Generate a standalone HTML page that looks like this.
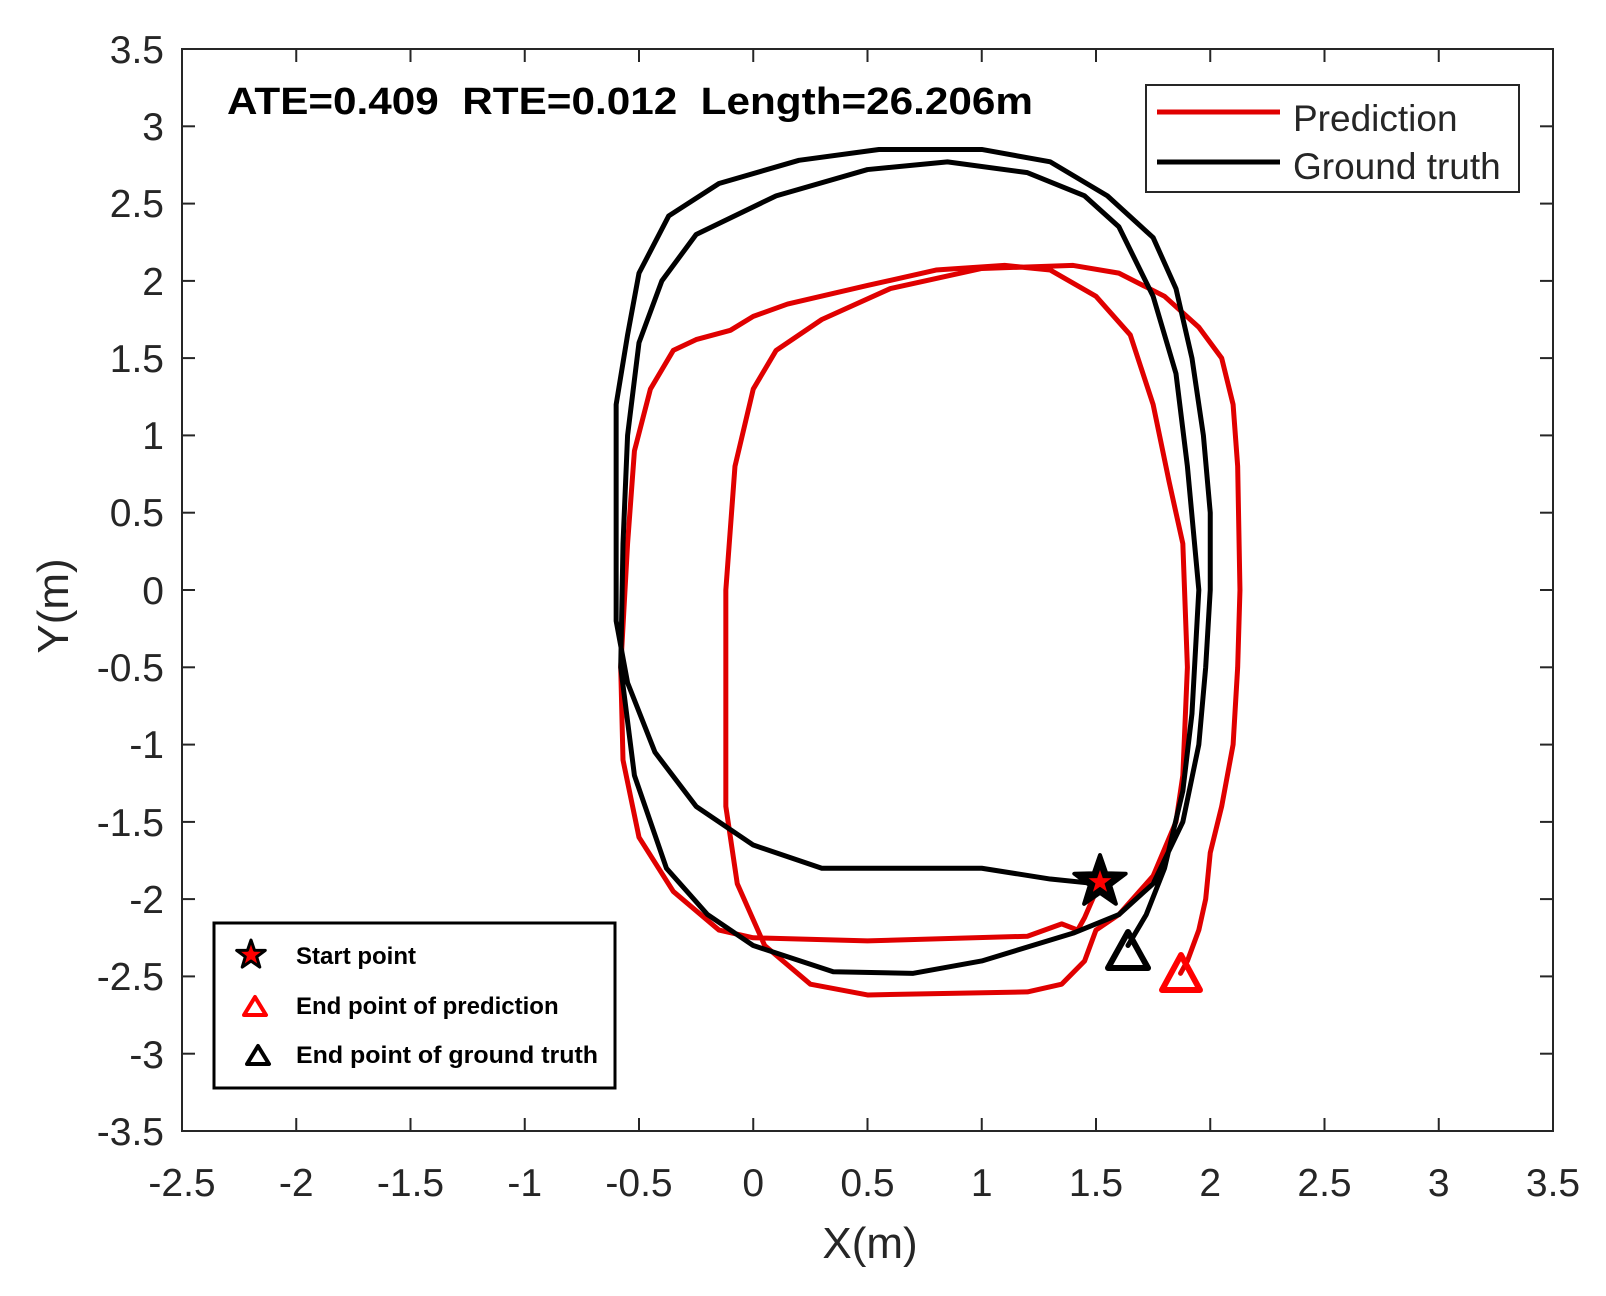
<!DOCTYPE html>
<html><head><meta charset="utf-8"><style>
html,body{margin:0;padding:0;background:#fff;}
svg{display:block;}
text{font-family:"Liberation Sans",Arial,sans-serif;}
</style></head><body>
<svg width="1606" height="1296" viewBox="0 0 1606 1296" xmlns="http://www.w3.org/2000/svg">
<rect width="1606" height="1296" fill="#fff"/>
<rect x="182" y="49" width="1371" height="1082" fill="none" stroke="#262626" stroke-width="2"/>
<g stroke="#262626" stroke-width="2">
<line x1="296.25" y1="1131" x2="296.25" y2="1118"/><line x1="410.5" y1="1131" x2="410.5" y2="1118"/><line x1="524.75" y1="1131" x2="524.75" y2="1118"/><line x1="639" y1="1131" x2="639" y2="1118"/><line x1="753.25" y1="1131" x2="753.25" y2="1118"/><line x1="867.5" y1="1131" x2="867.5" y2="1118"/><line x1="981.75" y1="1131" x2="981.75" y2="1118"/><line x1="1096" y1="1131" x2="1096" y2="1118"/><line x1="1210.25" y1="1131" x2="1210.25" y2="1118"/><line x1="1324.5" y1="1131" x2="1324.5" y2="1118"/><line x1="1438.75" y1="1131" x2="1438.75" y2="1118"/>
<line x1="296.25" y1="49" x2="296.25" y2="62"/><line x1="410.5" y1="49" x2="410.5" y2="62"/><line x1="524.75" y1="49" x2="524.75" y2="62"/><line x1="639" y1="49" x2="639" y2="62"/><line x1="753.25" y1="49" x2="753.25" y2="62"/><line x1="867.5" y1="49" x2="867.5" y2="62"/><line x1="981.75" y1="49" x2="981.75" y2="62"/><line x1="1096" y1="49" x2="1096" y2="62"/><line x1="1210.25" y1="49" x2="1210.25" y2="62"/><line x1="1324.5" y1="49" x2="1324.5" y2="62"/><line x1="1438.75" y1="49" x2="1438.75" y2="62"/>
<line x1="182" y1="126.3" x2="195" y2="126.3"/><line x1="182" y1="203.6" x2="195" y2="203.6"/><line x1="182" y1="280.9" x2="195" y2="280.9"/><line x1="182" y1="358.1" x2="195" y2="358.1"/><line x1="182" y1="435.4" x2="195" y2="435.4"/><line x1="182" y1="512.7" x2="195" y2="512.7"/><line x1="182" y1="590" x2="195" y2="590"/><line x1="182" y1="667.3" x2="195" y2="667.3"/><line x1="182" y1="744.6" x2="195" y2="744.6"/><line x1="182" y1="821.9" x2="195" y2="821.9"/><line x1="182" y1="899.1" x2="195" y2="899.1"/><line x1="182" y1="976.4" x2="195" y2="976.4"/><line x1="182" y1="1053.7" x2="195" y2="1053.7"/>
<line x1="1553" y1="126.3" x2="1540" y2="126.3"/><line x1="1553" y1="203.6" x2="1540" y2="203.6"/><line x1="1553" y1="280.9" x2="1540" y2="280.9"/><line x1="1553" y1="358.1" x2="1540" y2="358.1"/><line x1="1553" y1="435.4" x2="1540" y2="435.4"/><line x1="1553" y1="512.7" x2="1540" y2="512.7"/><line x1="1553" y1="590" x2="1540" y2="590"/><line x1="1553" y1="667.3" x2="1540" y2="667.3"/><line x1="1553" y1="744.6" x2="1540" y2="744.6"/><line x1="1553" y1="821.9" x2="1540" y2="821.9"/><line x1="1553" y1="899.1" x2="1540" y2="899.1"/><line x1="1553" y1="976.4" x2="1540" y2="976.4"/><line x1="1553" y1="1053.7" x2="1540" y2="1053.7"/>
</g>
<g font-size="39" fill="#262626" text-anchor="middle">
<text x="182" y="1196">-2.5</text><text x="296.25" y="1196">-2</text><text x="410.5" y="1196">-1.5</text><text x="524.75" y="1196">-1</text><text x="639" y="1196">-0.5</text><text x="753.25" y="1196">0</text><text x="867.5" y="1196">0.5</text><text x="981.75" y="1196">1</text><text x="1096" y="1196">1.5</text><text x="1210.25" y="1196">2</text><text x="1324.5" y="1196">2.5</text><text x="1438.75" y="1196">3</text><text x="1553" y="1196">3.5</text>
</g>
<g font-size="39" fill="#262626" text-anchor="end">
<text x="164" y="63">3.5</text><text x="164" y="140">3</text><text x="164" y="217">2.5</text><text x="164" y="295">2</text><text x="164" y="372">1.5</text><text x="164" y="449">1</text><text x="164" y="526">0.5</text><text x="164" y="604">0</text><text x="164" y="681">-0.5</text><text x="164" y="758">-1</text><text x="164" y="836">-1.5</text><text x="164" y="913">-2</text><text x="164" y="990">-2.5</text><text x="164" y="1068">-3</text><text x="164" y="1145">-3.5</text>
</g>
<text x="870" y="1258" font-size="44" fill="#262626" text-anchor="middle">X(m)</text>
<text transform="translate(68,606) rotate(-90)" font-size="44" fill="#262626" text-anchor="middle">Y(m)</text>
<text x="227" y="114" font-size="38" font-weight="bold" fill="#000" xml:space="preserve" textLength="806" lengthAdjust="spacingAndGlyphs">ATE=0.409  RTE=0.012  Length=26.206m</text>

<g transform="translate(753.25,590) scale(228.5,-154.57)" fill="none" stroke-linejoin="round" stroke-linecap="round">
<path vector-effect="non-scaling-stroke" stroke="#e00000" stroke-width="5" d="M1.5,-1.95 L1.45,-2.12 L1.42,-2.2 L1.35,-2.16 L1.2,-2.24 L0.5,-2.27 L0,-2.25 L-0.15,-2.2 L-0.35,-1.95 L-0.5,-1.6 L-0.57,-1.1 L-0.58,-0.5 L-0.55,0.3 L-0.52,0.9 L-0.45,1.3 L-0.35,1.55 L-0.25,1.62 L-0.1,1.68 L0,1.77 L0.15,1.85 L0.5,1.97 L0.8,2.07 L1.1,2.1 L1.3,2.07 L1.5,1.9 L1.65,1.65 L1.75,1.2 L1.82,0.7 L1.88,0.3 L1.9,-0.5 L1.88,-1.2 L1.85,-1.5 L1.75,-1.85 L1.6,-2.1 L1.5,-2.2 L1.45,-2.4 L1.35,-2.55 L1.2,-2.6 L0.5,-2.62 L0.25,-2.55 L0.05,-2.3 L-0.07,-1.9 L-0.12,-1.4 L-0.12,-0.7 L-0.12,0 L-0.08,0.8 L0,1.3 L0.1,1.55 L0.3,1.75 L0.6,1.95 L1.0,2.08 L1.4,2.1 L1.6,2.05 L1.8,1.9 L1.95,1.7 L2.05,1.5 L2.1,1.2 L2.12,0.8 L2.13,0 L2.12,-0.5 L2.1,-1.0 L2.05,-1.4 L2.0,-1.7 L1.98,-2.0 L1.95,-2.2 L1.9,-2.4 L1.87,-2.48"/>
<path vector-effect="non-scaling-stroke" stroke="#000" stroke-width="5" d="M1.5,-1.9 L1.3,-1.87 L1.0,-1.8 L0.3,-1.8 L0,-1.65 L-0.25,-1.4 L-0.43,-1.05 L-0.55,-0.6 L-0.6,-0.2 L-0.6,0.5 L-0.6,1.2 L-0.55,1.65 L-0.5,2.05 L-0.37,2.42 L-0.15,2.63 L0.2,2.78 L0.55,2.85 L1.0,2.85 L1.3,2.77 L1.55,2.55 L1.75,2.28 L1.85,1.95 L1.92,1.5 L1.97,1.0 L2.0,0.5 L2.0,0 L1.98,-0.5 L1.95,-1.0 L1.88,-1.5 L1.75,-1.9 L1.6,-2.1 L1.4,-2.22 L1.0,-2.4 L0.7,-2.48 L0.35,-2.47 L0.0,-2.3 L-0.2,-2.1 L-0.38,-1.8 L-0.52,-1.2 L-0.58,-0.5 L-0.57,0.3 L-0.55,1.0 L-0.5,1.6 L-0.4,2.0 L-0.25,2.3 L0.1,2.55 L0.5,2.72 L0.85,2.77 L1.2,2.7 L1.45,2.55 L1.6,2.35 L1.75,1.9 L1.85,1.4 L1.9,0.8 L1.95,0.0 L1.92,-0.8 L1.88,-1.3 L1.8,-1.8 L1.72,-2.1 L1.64,-2.3"/>
</g>
<polygon transform="translate(1100,882)" points="0,-27 6.3,-8.7 25.7,-8.3 10.2,3.3 15.9,21.8 0,10.8 -15.9,21.8 -10.2,3.3 -25.7,-8.3 -6.3,-8.7" fill="#000" stroke="#000" stroke-width="4" stroke-linejoin="round"/>
<polygon transform="translate(1100,882)" points="0,-12 2.8,-3.9 11.4,-3.7 4.5,1.5 7.1,9.7 0,4.8 -7.1,9.7 -4.5,1.5 -11.4,-3.7 -2.8,-3.9" fill="#f00"/>
<polygon points="1128,932 1148,968 1108,968" fill="none" stroke="#000" stroke-width="6" stroke-linejoin="round"/>
<polygon points="1181,955 1200,990 1162,990" fill="none" stroke="#f00" stroke-width="6" stroke-linejoin="round"/>

<rect x="1146" y="85" width="373" height="107" fill="#fff" stroke="#262626" stroke-width="2"/>
<line x1="1157" y1="112" x2="1280" y2="112" stroke="#e00000" stroke-width="5"/>
<line x1="1157" y1="162" x2="1280" y2="162" stroke="#000" stroke-width="5"/>
<text x="1293" y="131" font-size="37" fill="#262626">Prediction</text>
<text x="1293" y="179" font-size="37" fill="#262626">Ground truth</text>

<rect x="214" y="923" width="401" height="165" fill="#fff" stroke="#000" stroke-width="3"/>
<polygon transform="translate(251,955)" points="0,-15 3.5,-4.8 14.3,-4.6 5.7,1.8 8.8,12.1 0,6 -8.8,12.1 -5.7,1.8 -14.3,-4.6 -3.5,-4.8" fill="#f00" stroke="#000" stroke-width="3" stroke-linejoin="round"/>
<polygon points="255,997 266,1015 244,1015" fill="none" stroke="#f00" stroke-width="4" stroke-linejoin="round"/>
<polygon points="258,1046 269,1064 247,1064" fill="none" stroke="#000" stroke-width="4" stroke-linejoin="round"/>
<text x="296" y="964" font-size="24" font-weight="bold" fill="#000">Start point</text>
<text x="296" y="1014" font-size="24" font-weight="bold" fill="#000">End point of prediction</text>
<text x="296" y="1063" font-size="24" font-weight="bold" fill="#000" textLength="302" lengthAdjust="spacingAndGlyphs">End point of ground truth</text>
</svg>
</body></html>
